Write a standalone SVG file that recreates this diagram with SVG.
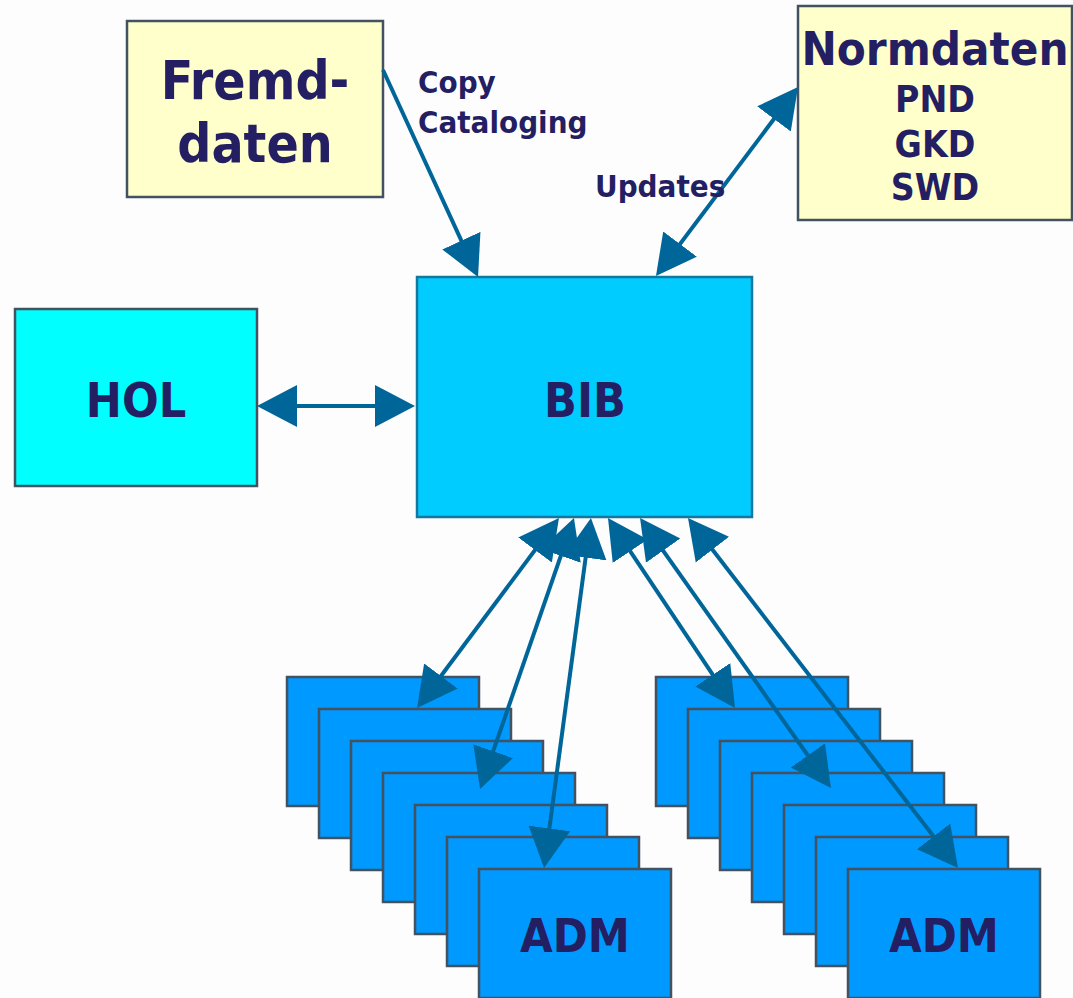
<svg xmlns="http://www.w3.org/2000/svg" width="1073" height="998" viewBox="0 0 1073 998">
<style>
text{font-family:"DejaVu Sans Condensed","DejaVu Sans","Liberation Sans",sans-serif;font-stretch:condensed;font-weight:bold;fill:#231f62;text-anchor:middle}
.lbl{text-anchor:start}
.yel{fill:#ffffcc;stroke:#435260;stroke-width:2.5}
.hol{fill:#00ffff;stroke:#435260;stroke-width:2.5}
.bib{fill:#00ccff;stroke:#14789e;stroke-width:2.5}
.adm{fill:#0099ff;stroke:#435260;stroke-width:2.5}
.conn line{stroke:#006699;stroke-width:4;fill:none}
</style>
<defs>
<marker id="ah" markerUnits="userSpaceOnUse" markerWidth="42" markerHeight="44" viewBox="0 0 42 44" refX="20" refY="22" orient="auto-start-reverse">
<path d="M0,1 L40,22 L0,43 z" fill="#006699"/>
</marker>
</defs>
<rect width="1073" height="998" fill="#fdfdfd"/>
<g id="fremddaten">
<rect class="yel" x="127" y="21" width="256" height="176"/>
<text x="255" y="99" font-size="53">Fremd-</text>
<text x="255" y="162" font-size="53">daten</text>
</g>
<g id="normdaten">
<rect class="yel" x="798" y="6" width="274" height="214"/>
<text x="935" y="65" font-size="47">Normdaten</text>
<text x="935" y="112" font-size="37">PND</text>
<text x="935" y="157" font-size="37">GKD</text>
<text x="935" y="200" font-size="37">SWD</text>
</g>
<g id="hol">
<rect class="hol" x="15" y="309" width="242" height="177"/>
<text x="136" y="417" font-size="48">HOL</text>
</g>
<g id="bib">
<rect class="bib" x="417" y="277" width="335" height="240"/>
<text x="585" y="417" font-size="48">BIB</text>
</g>
<g id="adm-left">
<rect class="adm" x="287" y="677" width="192" height="129"/>
<rect class="adm" x="319" y="709" width="192" height="129"/>
<rect class="adm" x="351" y="741" width="192" height="129"/>
<rect class="adm" x="383" y="773" width="192" height="129"/>
<rect class="adm" x="415" y="805" width="192" height="129"/>
<rect class="adm" x="447" y="837" width="192" height="129"/>
<rect class="adm" x="479" y="869" width="192" height="129"/>
<text x="575" y="952" font-size="47">ADM</text>
</g>
<g id="adm-right">
<rect class="adm" x="656" y="677" width="192" height="129"/>
<rect class="adm" x="688" y="709" width="192" height="129"/>
<rect class="adm" x="720" y="741" width="192" height="129"/>
<rect class="adm" x="752" y="773" width="192" height="129"/>
<rect class="adm" x="784" y="805" width="192" height="129"/>
<rect class="adm" x="816" y="837" width="192" height="129"/>
<rect class="adm" x="848" y="869" width="192" height="129"/>
<text x="944" y="952" font-size="47">ADM</text>
</g>
<g id="connectors" class="conn">
<line x1="383" y1="70" x2="469.7" y2="258.8" marker-end="url(#ah)"/>
<line x1="668" y1="260" x2="786" y2="103" marker-start="url(#ah)" marker-end="url(#ah)"/>
<line x1="277" y1="406" x2="395" y2="406" marker-start="url(#ah)" marker-end="url(#ah)"/>
<line x1="547" y1="534" x2="429" y2="692" marker-start="url(#ah)" marker-end="url(#ah)"/>
<line x1="567.4" y1="536.9" x2="486.6" y2="770.1" marker-start="url(#ah)" marker-end="url(#ah)"/>
<line x1="588.3" y1="537.8" x2="546.7" y2="848.2" marker-start="url(#ah)" marker-end="url(#ah)"/>
<line x1="619.1" y1="534.6" x2="723.9" y2="691.4" marker-start="url(#ah)" marker-end="url(#ah)"/>
<line x1="651.6" y1="534.3" x2="819.4" y2="771.7" marker-start="url(#ah)" marker-end="url(#ah)"/>
<line x1="700.2" y1="533.8" x2="945.8" y2="852.2" marker-start="url(#ah)" marker-end="url(#ah)"/>
</g>
<g id="labels">
<text class="lbl" x="418" y="93" font-size="31">Copy</text>
<text class="lbl" x="418" y="133" font-size="31">Cataloging</text>
<text class="lbl" x="595" y="197" font-size="31">Updates</text>
</g>
</svg>
